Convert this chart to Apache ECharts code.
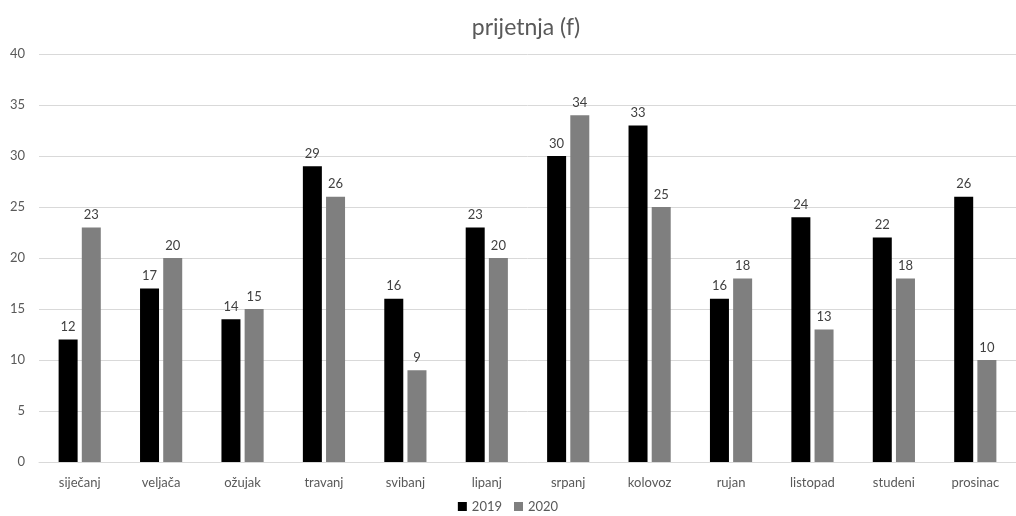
<!DOCTYPE html>
<html>
<head>
<meta charset="utf-8">
<script src="https://cdn.jsdelivr.net/npm/echarts@6/dist/echarts.min.js"></script>
<style>
html,body{margin:0;padding:0;background:#fff;}
#chart{width:1016px;height:516px;}
</style>
</head>
<body>
<div id="chart"></div>
<script>
const categories = ['siječanj','veljača','ožujak','travanj','svibanj','lipanj','srpanj','kolovoz','rujan','listopad','studeni','prosinac'];
const seriesNames = ['2019','2020'];
const values2019 = [12,17,14,29,16,23,30,33,16,24,22,26];
const values2020 = [23,20,15,26,9,20,34,25,18,13,18,10];
const yTicks = [0,5,10,15,20,25,30,35,40];

const FONT = 'Lato, "Noto Sans", sans-serif';
const chart = echarts.init(document.getElementById('chart'));
const labelStyle = {show:true, position:'top', distance:6, color:'#404040', fontSize:13, fontFamily:FONT};
chart.setOption({
  animation:false,
  title:{text:'prijetnja (f)', left:521, textAlign:'center', top:11,
    textStyle:{fontFamily:FONT, fontSize:23, fontWeight:'normal', color:'#595959'}},
  legend:{top:500, left:'center', padding:0, itemWidth:9, itemHeight:9, itemGap:12, icon:'rect',
    textStyle:{fontFamily:FONT, fontSize:13, color:'#595959'}, data:seriesNames},
  grid:{left:39, right:-12, top:54, bottom:54, containLabel:false},
  xAxis:{type:'category', data:categories,
    axisLine:{lineStyle:{color:'#d9d9d9'}}, axisTick:{show:false},
    axisLabel:{color:'#595959', fontSize:13, fontFamily:FONT, margin:14}},
  yAxis:{type:'value', min:yTicks[0], max:yTicks[yTicks.length-1], interval:5,
    axisLine:{show:false}, axisTick:{show:false},
    splitLine:{lineStyle:{color:'#d9d9d9'}},
    axisLabel:{color:'#595959', fontSize:13, fontFamily:FONT, margin:14}},
  series:[
    {name:seriesNames[0], type:'bar', data:values2019, barWidth:19, barGap:'22%',
      itemStyle:{color:'#000000'}, label:labelStyle},
    {name:seriesNames[1], type:'bar', data:values2020, barWidth:19,
      itemStyle:{color:'#7f7f7f'}, label:labelStyle}
  ]
});
</script>
</body>
</html>
